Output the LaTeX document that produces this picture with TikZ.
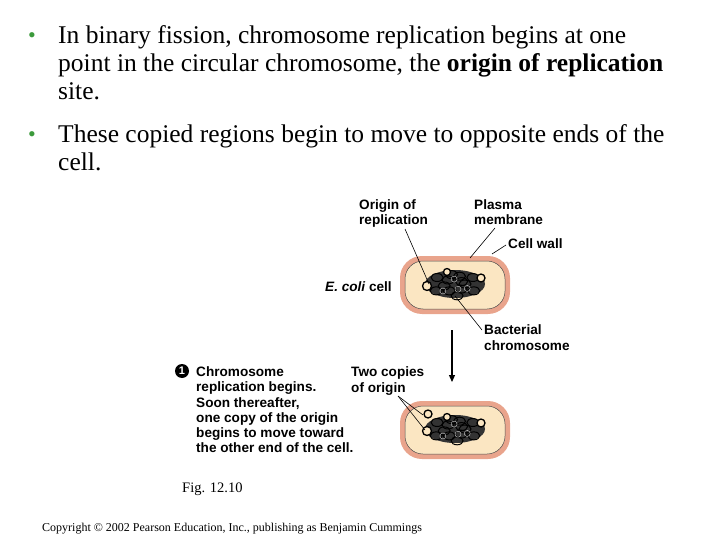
\documentclass[tikz,border=0pt]{standalone}
\usepackage{fontspec}
\setmainfont{Liberation Serif}
\newfontfamily\lab{Liberation Sans}
\usetikzlibrary{arrows.meta}
\definecolor{wallc}{HTML}{E9A48C}
\definecolor{cytoc}{HTML}{FBE6C2}
\definecolor{bulc}{HTML}{3C9A3C}
\tikzset{
 body/.style={anchor=base west,inner sep=0pt,font=\fontsize{25.5pt}{28pt}\selectfont},
 bul/.style={anchor=base west,inner sep=0pt,text=bulc,font=\fontsize{22pt}{24pt}\selectfont},
 lbl/.style={anchor=base west,inner sep=0pt,font=\lab\bfseries\fontsize{13.6pt}{15pt}\selectfont},
 lead/.style={draw=black,line width=0.6pt},
 wall/.style={fill=wallc,rounded corners=22pt},
 cyto/.style={fill=cytoc,draw=black!70,line width=0.5pt,rounded corners=18pt},
}
\begin{document}
\begin{tikzpicture}[x=1pt,y=-1pt]
\useasboundingbox (0,0) rectangle (720,540);
\node[bul] (b1) at (28,43) {•};
\node[body] (t1) at (58,44) {In binary fission, chromosome replication begins at one};
\node[body] (t2) at (58,72) {point in the circular chromosome, the \textbf{origin of replication}};
\node[body] (t3) at (58,100) {site.};
\node[bul] (b2) at (28,142) {•};
\node[body] (t4) at (58,143) {These copied regions begin to move to opposite ends of the};
\node[body] (t5) at (58,171) {cell.};
% cells
\foreach \y/\n in {256/c1,401/c2}{
 \path[wall] (400,\y) rectangle (510,\y+58);
 \path[cyto] (405,\y+5) rectangle (505,\y+53);
 \coordinate (\n) at (455,\y+29);
 \begin{scope}[shift={(455,\y+28)}]
  \fill[black!80] (0,0) ellipse (30 and 14);
  \foreach \a/\r in {0/10,40/8,80/12,130/9,170/11,210/8,250/10,300/9,340/7,20/20,160/20,200/19,340/19}{
    \draw[black,line width=1pt] (\a:\r) ellipse (6 and 4);}
  \foreach \a/\r in {60/6,150/14,260/5,20/13}{
    \draw[white!60!gray,line width=0.4pt] (\a:\r) circle (3);}
  \draw[black,line width=1.3pt,fill=cytoc] (-28,2) circle (4.5);
  \draw[black,line width=1.3pt,fill=cytoc] (26,-6) circle (4);
  \draw[black,line width=1.3pt,fill=cytoc] (-8,-12) circle (3.5);
 \end{scope}
}
\draw[black,line width=1.3pt,fill=cytoc] (428,414) circle (4);
% labels
\node[lbl] (ori) at (359,210) {Origin of};
\node[lbl] at (359,225) {replication};
\node[lbl] (pm) at (474,210) {Plasma};
\node[lbl] at (474,225) {membrane};
\node[lbl] (cw) at (508,248) {Cell wall};
\node[lbl] (ec) at (325,291) {\itshape E. coli\upshape\ cell};
\node[lbl] (bc) at (484,334) {Bacterial};
\node[lbl] at (484,350) {chromosome};
\node[lbl] (two) at (351,376) {Two copies};
\node[lbl] at (351,392) {of origin};
\coordinate (o1) at (429,284);
\draw[lead] (405,229) -- (o1);
\draw[lead] (495,228) -- (470,258);
\draw[lead] (506,245) -- (492,254);
\draw[lead] (482,330) -- (455,296);
\draw[lead] (398,396) -- (423,415);
\draw[lead] (398,396) -- (425,430);
\coordinate (a1) at (452,330);
\coordinate (a2) at (452,382);
\draw[line width=1.2pt,-{Triangle[length=7pt,width=6pt]}] (a1) -- (a2);
% step 1
\node[circle,fill=black,inner sep=0pt,minimum size=14pt,text=white,font=\lab\bfseries\fontsize{11pt}{11pt}\selectfont] (s1) at (182,371) {1};
\node[lbl] at (196,376) {Chromosome};
\node[lbl] at (196,391) {replication begins.};
\node[lbl] at (196,407) {Soon thereafter,};
\node[lbl] at (196,422) {one copy of the origin};
\node[lbl] at (196,437) {begins to move toward};
\node[lbl] at (196,452) {the other end of the cell.};
\node[anchor=base west,inner sep=0pt,font=\fontsize{14.5pt}{16pt}\selectfont] (fig) at (182,492) {Fig. 12.10};
\node[anchor=base west,inner sep=0pt,font=\fontsize{12pt}{14pt}\selectfont] (cp) at (42,531) {Copyright © 2002 Pearson Education, Inc., publishing as Benjamin Cummings};
\end{tikzpicture}
\end{document}
